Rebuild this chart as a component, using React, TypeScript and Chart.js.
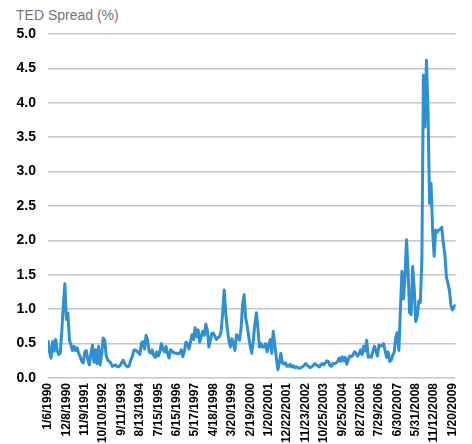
import { useEffect, useRef } from "react";
import { Chart, registerables } from "chart.js";

Chart.register(...registerables);

// Date labels shown along the bottom axis, one every 12 samples.
const tickLabels = [
  "1/6/1990", "12/8/1990", "11/9/1991", "10/10/1992", "9/11/1993", "8/13/1994",
  "7/15/1995", "6/15/1996", "5/17/1997", "4/18/1998", "3/20/1999", "2/19/2000",
  "1/20/2001", "12/22/2001", "11/23/2002", "10/25/2003", "9/25/2004", "8/27/2005",
  "7/29/2006", "6/30/2007", "5/31/2008", "11/12/2008", "1/20/2009",
];

const SAMPLES_PER_TICK = 12;

// TED spread (%), split into runs that each start at a labelled date.
const from1990 = [0.55, 0.38, 0.29, 0.53, 0.39, 0.56, 0.40, 0.34, 0.36, 0.68, 1.05, 1.37, 0.85, 0.94, 0.55, 0.48, 0.40, 0.46, 0.40, 0.44, 0.36, 0.31, 0.24, 0.22];
const from1991 = [0.38, 0.40, 0.26, 0.19, 0.35, 0.48, 0.23, 0.41, 0.21, 0.46, 0.19, 0.34, 0.58, 0.55, 0.32, 0.26, 0.24, 0.22, 0.17, 0.18, 0.19, 0.17, 0.16, 0.18];
const from1993 = [0.22, 0.26, 0.21, 0.18, 0.16, 0.18, 0.26, 0.31, 0.40, 0.41, 0.39, 0.37, 0.34, 0.51, 0.53, 0.42, 0.62, 0.55, 0.38, 0.36, 0.41, 0.33, 0.30, 0.38];
const from1995 = [0.32, 0.38, 0.50, 0.42, 0.38, 0.46, 0.36, 0.29, 0.41, 0.39, 0.37, 0.36, 0.36, 0.35, 0.36, 0.41, 0.31, 0.39, 0.52, 0.50, 0.42, 0.52, 0.63, 0.56];
const from1997 = [0.73, 0.60, 0.70, 0.52, 0.60, 0.68, 0.62, 0.78, 0.70, 0.45, 0.55, 0.65, 0.65, 0.60, 0.56, 0.59, 0.60, 0.68, 0.95, 1.28, 0.94, 0.72, 0.55, 0.45];
const from1999 = [0.57, 0.50, 0.40, 0.63, 0.60, 0.55, 0.72, 1.07, 1.21, 0.87, 0.76, 0.60, 0.46, 0.36, 0.55, 0.78, 0.95, 0.72, 0.45, 0.50, 0.45, 0.45, 0.50, 0.38];
const from2001 = [0.48, 0.56, 0.36, 0.68, 0.48, 0.30, 0.12, 0.22, 0.36, 0.22, 0.20, 0.22, 0.17, 0.17, 0.20, 0.16, 0.18, 0.15, 0.16, 0.15, 0.14, 0.15, 0.16, 0.18];
const from2002 = [0.21, 0.19, 0.17, 0.15, 0.16, 0.18, 0.21, 0.19, 0.18, 0.16, 0.19, 0.21, 0.19, 0.22, 0.25, 0.24, 0.18, 0.17, 0.21, 0.21, 0.22, 0.24, 0.29, 0.24];
const from2004 = [0.31, 0.25, 0.30, 0.20, 0.27, 0.32, 0.31, 0.33, 0.38, 0.36, 0.32, 0.35, 0.41, 0.34, 0.46, 0.39, 0.55, 0.30, 0.32, 0.30, 0.38, 0.46, 0.40, 0.32];
const from2006 = [0.48, 0.46, 0.47, 0.50, 0.40, 0.30, 0.38, 0.24, 0.26, 0.33, 0.38, 0.60, 0.66, 0.40, 1.00, 1.55, 1.15, 1.48, 2.01, 1.55, 0.95, 0.92, 1.62, 1.30];
const from2008 = [0.82, 0.90, 1.12, 1.10, 1.72, 4.40, 3.65, 4.62, 3.90, 2.54, 2.83, 2.15, 1.77, 2.15, 2.12, 2.15, 2.16, 2.19, 1.95, 1.80, 1.47, 1.38, 1.27, 1.05, 0.99, 1.03, 1.07];

const tedSpread = [
  ...from1990, ...from1991, ...from1993, ...from1995, ...from1997, ...from1999,
  ...from2001, ...from2002, ...from2004, ...from2006, ...from2008,
];

const FONT = "'Liberation Sans', Arial, Helvetica, sans-serif";

export default function App() {
  const canvasRef = useRef<HTMLCanvasElement>(null);

  useEffect(() => {
    const canvas = canvasRef.current;
    if (!canvas) return;
    const chart = new Chart(canvas, {
      type: "line",
      data: {
        datasets: [
          {
            label: "TED Spread (%)",
            data: tedSpread.map((y, x) => ({ x, y })),
            borderColor: "#2e8fd3",
            borderWidth: 3,
            pointRadius: 0,
            tension: 0,
            borderJoinStyle: "round",
            fill: false,
          },
        ],
      },
      options: {
        responsive: false,
        animation: false,
        layout: { padding: { top: 34, right: 11, left: 0, bottom: 0 } },
        plugins: { legend: { display: false }, tooltip: { enabled: false }, title: { display: false } },
        scales: {
          x: {
            type: "linear",
            min: 0,
            max: tedSpread.length - 1,
            grid: { display: false, drawTicks: false },
            border: { display: false },
            afterBuildTicks: (axis: any) => {
              axis.ticks = tickLabels.map((_, k) => ({ value: k * SAMPLES_PER_TICK }));
            },
            afterFit: (axis: any) => {
              axis.height = 66;
            },
            ticks: {
              autoSkip: false,
              minRotation: 90,
              maxRotation: 90,
              padding: 5,
              color: "#000000",
              font: { family: FONT, size: 12, weight: "bold" },
              callback: (v: any) => tickLabels[Math.round(Number(v) / SAMPLES_PER_TICK)] ?? "",
            },
          },
          y: {
            min: 0,
            max: 5,
            afterFit: (axis: any) => {
              axis.width = 48;
            },
            grid: { color: "#c6c6c6", lineWidth: 1.5, drawTicks: false },
            border: { display: false },
            ticks: {
              stepSize: 0.5,
              padding: 12,
              color: "#000000",
              font: { family: FONT, size: 14, weight: "bold" },
              callback: (v: any) => Number(v).toFixed(1),
            },
          },
        },
      },
    });
    return () => chart.destroy();
  }, []);

  return (
    <div style={{ position: "fixed", left: 0, top: 0, width: 472, height: 444, overflow: "hidden", background: "#ffffff" }}>
      <div
        style={{
          position: "absolute",
          left: 16,
          top: 7,
          fontFamily: FONT,
          fontSize: 14,
          lineHeight: "16px",
          color: "#767676",
          whiteSpace: "nowrap",
        }}
      >
        TED Spread (%)
      </div>
      <canvas ref={canvasRef} width={472} height={444} style={{ position: "absolute", left: 0, top: 0 }} />
    </div>
  );
}
